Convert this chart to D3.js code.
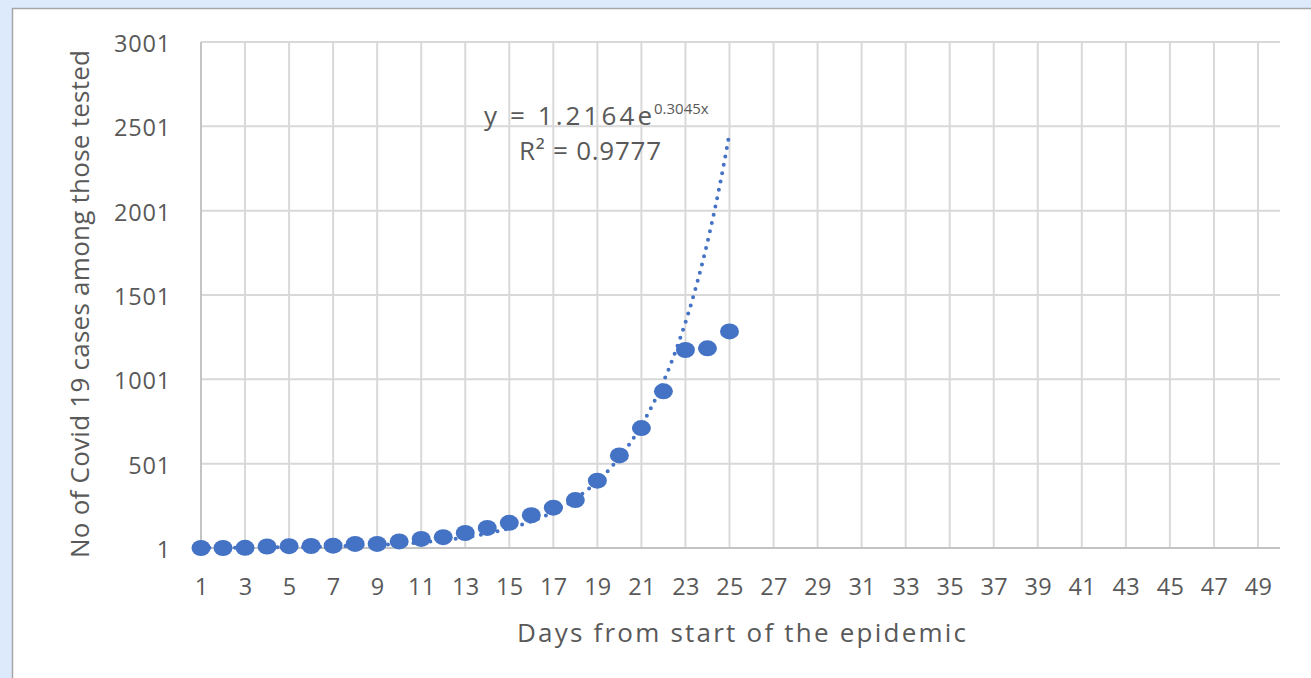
<!DOCTYPE html>
<html>
<head>
<meta charset="utf-8">
<script src="https://cdn.jsdelivr.net/npm/d3@7"></script>
<style>
  html, body { margin: 0; padding: 0; background: #dceafc; }
  svg { display: block; }
</style>
</head>
<body>
<div id="chart"></div>
<script>
// days since the start of the epidemic
const days = d3.range(1, 26)
// confirmed cases among those tested
const cases = [1, 1, 2, 10, 12, 13, 15, 25, 25, 40, 55, 65, 90, 120, 150, 195, 240, 285, 400, 550, 712, 930, 1175, 1185, 1285]
const y_ticks = [1, 501, 1001, 1501, 2001, 2501, 3001]
const x_ticks = d3.range(1, 50, 2)
// exponential trendline as reported on the chart
const trend_a = 1.2164
const trend_b = 0.3045
const trend_label = "y = 1.2164e"
const trend_exp = "0.3045x"
const r2_label = "R² = 0.9777"

const width = 1311
const height = 678
const text_color = "#595959"
const grid_color = "#d9d9d9"
const blue = "#4472c4"
const font = "'Open Sans', 'Noto Sans', sans-serif"

const svg = d3.select("#chart").append("svg")
	.attr("width", width)
	.attr("height", height)

// white chart panel
svg.append("rect")
	.attr("x", 12.5).attr("y", 8.5)
	.attr("width", width).attr("height", height)
	.attr("fill", "white")
	.attr("stroke", "#a6a6a6")
	.attr("stroke-width", 1.5)

const x_scale = d3.scaleLinear().domain([1, 50]).range([201, 1280])
const y_scale = d3.scaleLinear().domain([1, 3001]).range([548, 42])

// gridlines
const grid = svg.append("g").attr("class", "grid")
grid.selectAll("line.h")
	.data(y_ticks.slice(1))
	.join("line")
	.attr("x1", x_scale(1)).attr("x2", x_scale(50))
	.attr("y1", d => y_scale(d)).attr("y2", d => y_scale(d))
	.attr("stroke", grid_color).attr("stroke-width", 2)
grid.selectAll("line.v")
	.data(x_ticks.slice(1))
	.join("line")
	.attr("x1", d => x_scale(d)).attr("x2", d => x_scale(d))
	.attr("y1", y_scale(3001)).attr("y2", y_scale(1))
	.attr("stroke", grid_color).attr("stroke-width", 2)

// axis lines
svg.append("line")
	.attr("x1", x_scale(1)).attr("x2", x_scale(50))
	.attr("y1", y_scale(1)).attr("y2", y_scale(1))
	.attr("stroke", "#c4c4c4").attr("stroke-width", 2)
svg.append("line")
	.attr("x1", x_scale(1)).attr("x2", x_scale(1))
	.attr("y1", y_scale(3001)).attr("y2", y_scale(1))
	.attr("stroke", "#c4c4c4").attr("stroke-width", 2)

// axes labels through d3 axes
const x_axis = d3.axisBottom(x_scale)
	.tickValues(x_ticks)
	.tickSize(0)
	.tickPadding(30)
const gx = svg.append("g")
	.attr("transform", `translate(0,${y_scale(1)})`)
	.call(x_axis)
gx.select(".domain").remove()
gx.selectAll("text")
	.attr("fill", text_color)
	.attr("font-size", 23.5)
	.attr("font-family", font)
	.attr("letter-spacing", 0.3)

const y_axis = d3.axisLeft(y_scale)
	.tickValues(y_ticks)
	.tickSize(0)
	.tickPadding(30)
	.tickFormat(d3.format("d"))
const gy = svg.append("g")
	.attr("transform", `translate(${x_scale(1)},0)`)
	.call(y_axis)
gy.select(".domain").remove()
gy.selectAll("text")
	.attr("fill", text_color)
	.attr("font-size", 23.5)
	.attr("font-family", font)
	.attr("letter-spacing", 0.8)
	.attr("dy", "0.4em")

// trendline
const trend_points = d3.range(1, 25.001, 0.1).map(x => [x, trend_a * Math.exp(trend_b * x)])
svg.append("path")
	.datum(trend_points)
	.attr("fill", "none")
	.attr("stroke", blue)
	.attr("stroke-width", 4)
	.attr("stroke-linecap", "round")
	.attr("stroke-dasharray", "0 8.5")
	.attr("d", d3.line().x(d => x_scale(d[0])).y(d => y_scale(d[1])))

// markers
svg.append("g")
	.selectAll("ellipse")
	.data(days)
	.join("ellipse")
	.attr("cx", d => x_scale(d))
	.attr("cy", (d, i) => y_scale(cases[i]))
	.attr("rx", 9.5)
	.attr("ry", 8)
	.attr("fill", blue)

// trendline label
svg.append("text")
	.attr("x", 484).attr("y", 125)
	.attr("fill", text_color)
	.attr("font-size", 26)
	.attr("font-family", font)
	.attr("textLength", 168)
	.attr("lengthAdjust", "spacing")
	.text(trend_label)
svg.append("text")
	.attr("x", 654).attr("y", 114)
	.attr("fill", text_color)
	.attr("font-size", 15)
	.attr("font-family", font)
	.text(trend_exp)
svg.append("text")
	.attr("x", 519).attr("y", 160)
	.attr("fill", text_color)
	.attr("font-size", 26)
	.attr("font-family", font)
	.attr("textLength", 142)
	.attr("lengthAdjust", "spacing")
	.text(r2_label)

// axis titles
svg.append("text")
	.attr("x", 517).attr("y", 642)
	.attr("fill", text_color)
	.attr("font-size", 26)
	.attr("font-family", font)
	.attr("textLength", 449)
	.attr("lengthAdjust", "spacing")
	.text("Days from start of the epidemic")
svg.append("text")
	.attr("transform", "translate(89,558) rotate(-90)")
	.attr("fill", text_color)
	.attr("font-size", 26)
	.attr("font-family", font)
	.attr("textLength", 508)
	.attr("lengthAdjust", "spacing")
	.text("No of Covid 19 cases among those tested")
</script>
</body>
</html>
